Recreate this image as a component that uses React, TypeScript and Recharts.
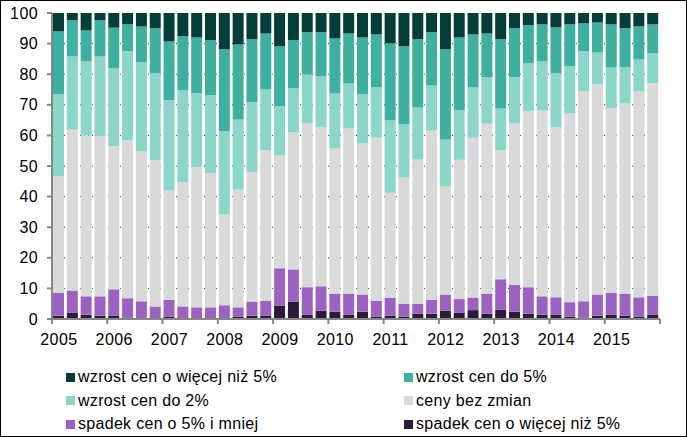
import React from 'react';
import { BarChart, Bar, XAxis, YAxis, CartesianGrid } from 'recharts';

// quarters 2005Q1 .. 2015Q4
const YEARS = ['2005', '2006', '2007', '2008', '2009', '2010', '2011', '2012', '2013', '2014', '2015'];
const QUARTERS = YEARS.flatMap((y) => [`${y} Q1`, `${y} Q2`, `${y} Q3`, `${y} Q4`]);

const spadekPonad5 = [
  1.1, 2.1, 1.4, 1.1, 1.1, 0.5, 0.3, 0.2, 0.8, 0.2, 0.2, 0.3,
  0.3, 0.8, 1.1, 1.1, 4.4, 5.7, 1.4, 2.7, 2.4, 1.4, 2.4, 0.8,
  1.1, 0.8, 1.7, 1.7, 2.7, 2.0, 2.9, 1.7, 3.1, 2.4, 1.7, 1.4,
  1.4, 0.8, 0.5, 1.1, 1.4, 1.1, 0.8, 1.4,
];
const spadekDo5 = [
  7.5, 7.2, 6.0, 6.3, 8.6, 6.3, 5.5, 3.9, 5.5, 3.9, 3.6, 3.5,
  4.2, 3.0, 4.6, 4.9, 12.2, 10.5, 9.0, 8.0, 5.9, 6.9, 5.6, 5.2,
  5.9, 4.2, 3.3, 4.6, 5.3, 4.5, 4.1, 6.6, 9.9, 8.8, 8.7, 6.0,
  5.7, 4.7, 5.3, 6.9, 7.2, 7.2, 6.3, 6.2,
];
const bezZmian = [
  38.1, 52.6, 52.6, 52.3, 46.7, 51.5, 48.9, 47.9, 35.7, 40.6, 45.8, 43.9,
  29.6, 38.5, 42.2, 49.1, 36.8, 44.7, 53.5, 51.9, 47.4, 54.0, 49.4, 53.3,
  34.3, 41.2, 47.1, 55.3, 35.3, 45.5, 52.3, 55.5, 42.1, 52.7, 57.6, 60.8,
  55.5, 61.7, 68.6, 68.7, 60.2, 62.1, 67.3, 69.4,
];
const wzrostDo2 = [
  26.7, 23.9, 24.2, 26.1, 25.5, 29.2, 29.2, 28.3, 29.5, 30.0, 24.2, 25.4,
  27.2, 22.9, 23.0, 19.9, 16.1, 14.5, 16.0, 16.7, 18.0, 14.7, 16.0, 16.4,
  23.6, 17.4, 17.0, 14.7, 15.4, 16.2, 16.4, 15.2, 13.7, 15.1, 15.5, 16.0,
  17.7, 15.4, 13.1, 10.4, 13.4, 11.8, 10.4, 9.8,
];
const wzrostDo5 = [
  20.6, 11.8, 10.1, 11.8, 13.3, 8.8, 11.7, 14.7, 19.2, 17.7, 18.2, 18.0,
  26.8, 24.5, 20.5, 18.3, 19.6, 15.7, 13.8, 14.4, 18.0, 16.3, 18.6, 17.3,
  25.2, 25.5, 22.3, 17.4, 29.4, 23.8, 17.3, 14.3, 22.6, 16.0, 12.5, 12.1,
  15.0, 13.7, 9.1, 9.8, 14.1, 12.8, 10.8, 9.5,
];
const wzrostPonad5 = [
  6.0, 2.4, 5.7, 2.4, 4.8, 3.7, 4.4, 5.0, 9.3, 7.6, 8.0, 8.9,
  11.9, 10.3, 8.6, 6.7, 10.9, 8.9, 6.3, 6.3, 8.3, 6.7, 8.0, 7.0,
  9.9, 10.9, 8.6, 6.3, 11.9, 8.0, 7.0, 6.7, 8.6, 5.0, 4.0, 3.7,
  4.7, 3.7, 3.4, 3.1, 3.7, 5.0, 4.4, 3.7,
];

const Y_TICKS = [0, 10, 20, 30, 40, 50, 60, 70, 80, 90, 100];

const SERIES = [
  { key: 'spadekPonad5', name: 'spadek cen o więcej niż 5%', color: '#2b1a3a', values: spadekPonad5 },
  { key: 'spadekDo5', name: 'spadek cen o 5% i mniej', color: '#9c62c2', values: spadekDo5 },
  { key: 'bezZmian', name: 'ceny bez zmian', color: '#d9d9d9', values: bezZmian },
  { key: 'wzrostDo2', name: 'wzrost cen do 2%', color: '#8cd5c9', values: wzrostDo2 },
  { key: 'wzrostDo5', name: 'wzrost cen do 5%', color: '#3fb0a0', values: wzrostDo5 },
  { key: 'wzrostPonad5', name: 'wzrost cen o więcej niż 5%', color: '#053d38', values: wzrostPonad5 },
];

// legend order as in the picture (two columns)
const LEGEND_ORDER = ['wzrostPonad5', 'wzrostDo5', 'wzrostDo2', 'bezZmian', 'spadekDo5', 'spadekPonad5'];

const data = QUARTERS.map((q, i) => {
  const row: Record<string, string | number> = { q };
  SERIES.forEach((s) => {
    row[s.key] = s.values[i];
  });
  return row;
});

const W = 687;
const H = 437;
const PLOT_LEFT = 52;
const PLOT_RIGHT = 27;
const BAND = (W - PLOT_LEFT - PLOT_RIGHT) / QUARTERS.length;
const AXIS_GRAY = '#868686';
const FONT = '"Liberation Sans", Arial, sans-serif';

const YearTick = (props: any) => {
  const { x, y, index } = props;
  const first = index % 4 === 0;
  const last = index === QUARTERS.length - 1;
  return (
    <g>
      {first && <line x1={x - BAND / 2} x2={x - BAND / 2} y1={y} y2={y + 5} stroke={AXIS_GRAY} strokeWidth={2} />}
      {last && <line x1={x + BAND / 2} x2={x + BAND / 2} y1={y} y2={y + 5} stroke={AXIS_GRAY} strokeWidth={2} />}
      {first && (
        <text x={x} y={y + 26} textAnchor="middle" fontSize={16} fill="#000" fontFamily={FONT} letterSpacing={0.4}>
          {String(props.payload.value).slice(0, 4)}
        </text>
      )}
    </g>
  );
};

const App = () => {
  return (
    <div
      style={{
        position: 'absolute',
        left: 0,
        top: 0,
        width: W,
        height: H,
        boxSizing: 'border-box',
        border: '1px solid #000',
        background: '#fff',
        fontFamily: FONT,
      }}
    >
      <div style={{ position: 'absolute', left: -1, top: -1 }}>
        <BarChart
          width={W}
          height={H}
          data={data}
          margin={{ top: 13, right: PLOT_RIGHT, left: 0, bottom: 88 }}
          barSize={11}
        >
          <CartesianGrid
            vertical={false}
            stroke="#404040"
            strokeDasharray="1 3"
            horizontalValues={[10, 20, 30, 40, 50, 60, 70, 80, 90]}
          />
          <XAxis
            dataKey="q"
            interval={0}
            height={30}
            tickLine={false}
            tickSize={0}
            tickMargin={0}
            axisLine={{ stroke: AXIS_GRAY, strokeWidth: 2 }}
            tick={<YearTick />}
          />
          <YAxis
            width={PLOT_LEFT}
            domain={[0, 100]}
            ticks={Y_TICKS}
            interval={0}
            tickSize={5}
            tickMargin={9}
            tickLine={{ stroke: AXIS_GRAY, strokeWidth: 2 }}
            axisLine={{ stroke: AXIS_GRAY, strokeWidth: 2 }}
            tick={{ fontSize: 16, fill: '#000', fontFamily: FONT, letterSpacing: 0.4 }}
          />
          {SERIES.map((s) => (
            <Bar key={s.key} dataKey={s.key} name={s.name} stackId="a" fill={s.color} isAnimationActive={false} />
          ))}
        </BarChart>
      </div>
      {LEGEND_ORDER.map((k, i) => {
        const s = SERIES.find((d) => d.key === k)!;
        const col = i % 2;
        const row = Math.floor(i / 2);
        return (
          <div
            key={k}
            style={{
              position: 'absolute',
              left: col === 0 ? 65 : 403,
              top: 366 + row * 23.5,
              display: 'flex',
              alignItems: 'center',
              fontSize: 16,
              lineHeight: '20px',
              letterSpacing: 0.3,
              color: '#000',
              whiteSpace: 'nowrap',
            }}
          >
            <span style={{ display: 'inline-block', width: 9, height: 9, background: s.color, marginRight: 3 }} />
            {s.name}
          </div>
        );
      })}
    </div>
  );
};

export default App;
